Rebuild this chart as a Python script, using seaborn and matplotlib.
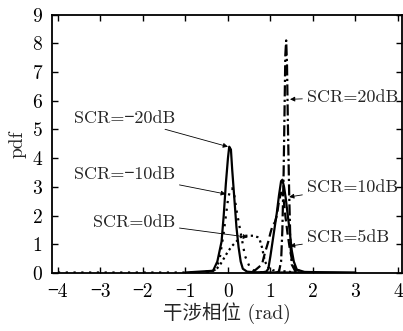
import numpy as np
import pandas as pd
import matplotlib
matplotlib.use('Agg')
import matplotlib.pyplot as plt
import seaborn as sns

sns.set_theme(style='ticks')
plt.rcParams['font.family'] = ['cmr10', 'Noto Sans CJK SC', 'DejaVu Serif']
plt.rcParams['axes.unicode_minus'] = True

# 读图得到的数据点 (相位 rad, pdf)
x_m20 = [-1.0, -0.35, -0.25, -0.15, -0.1, -0.05, 0.0, 0.03, 0.07, 0.1, 0.15, 0.2, 0.25, 0.3, 0.35, 0.45, 0.6, 1.0, 2.0, 3.0]
y_m20 = [0.02, 0.08, 0.4, 1.1, 2.0, 3.1, 4.0, 4.4, 4.3, 3.6, 2.6, 1.6, 0.9, 0.4, 0.15, 0.05, 0.03, 0.02, 0.02, 0.02]

x_m10 = [-4.0, -3.0, -2.0, -1.0, -0.6, -0.3, -0.2, -0.1, 0.0, 0.05, 0.1, 0.15, 0.2, 0.25, 0.3, 0.35, 0.4, 0.5, 0.6, 0.8]
y_m10 = [0.02, 0.02, 0.02, 0.02, 0.02, 0.12, 0.45, 1.4, 2.55, 2.9, 2.95, 2.7, 2.2, 1.8, 1.4, 1.0, 0.6, 0.25, 0.1, 0.02]

x_0 = [-0.5, -0.3, -0.2, -0.1, 0.0, 0.1, 0.2, 0.3, 0.4, 0.5, 0.6, 0.7, 0.75, 0.8, 0.87, 0.95, 1.05, 1.2, 1.4, 1.6]
y_0 = [0.02, 0.1, 0.25, 0.5, 0.75, 0.95, 1.1, 1.25, 1.3, 1.3, 1.3, 1.25, 1.15, 0.9, 0.4, 0.2, 0.1, 0.08, 0.05, 0.02]

x_5 = [0.7, 0.9, 0.95, 1.0, 1.05, 1.1, 1.15, 1.2, 1.25, 1.28, 1.32, 1.36, 1.4, 1.45, 1.5, 1.55, 1.62, 1.8, 2.5, 3.0]
y_5 = [0.0, 0.05, 0.15, 0.6, 1.1, 1.6, 2.1, 2.7, 3.2, 3.25, 3.0, 2.6, 2.1, 1.5, 0.8, 0.4, 0.12, 0.04, 0.02, 0.0]

x_10 = [0.6, 0.8, 0.87, 0.95, 1.0, 1.06, 1.1, 1.15, 1.2, 1.25, 1.3, 1.35, 1.4, 1.45, 1.5, 1.6, 1.8]
y_10 = [0.05, 0.3, 0.7, 1.1, 1.4, 1.7, 1.75, 2.0, 2.5, 2.8, 2.7, 2.0, 1.4, 0.9, 0.5, 0.12, 0.02]

x_20 = [1.1, 1.2, 1.25, 1.28, 1.31, 1.33, 1.35, 1.37, 1.39, 1.41, 1.44, 1.47, 1.5, 1.6]
y_20 = [0.0, 0.05, 0.4, 1.5, 3.5, 5.5, 7.6, 8.1, 7.2, 5.2, 2.8, 1.0, 0.3, 0.02]

curves = [
    ('SCR=−20dB', x_m20, y_m20, '-'),
    ('SCR=−10dB', x_m10, y_m10, (0, (1, 2.5))),
    ('SCR=0dB', x_0, y_0, (0, (1, 1.5))),
    ('SCR=5dB', x_5, y_5, '-'),
    ('SCR=10dB', x_10, y_10, (0, (4, 2))),
    ('SCR=20dB', x_20, y_20, (0, (5, 1.5, 1, 1.5))),
]

fig = plt.figure(figsize=(4.03, 3.31), dpi=100)
ax = fig.add_axes([0.129, 0.175, 0.868, 0.781])

for name, xs, ys, ls in curves:
    sns.lineplot(x=xs, y=ys, ax=ax, color='black', linewidth=1.6,
                 linestyle=ls, estimator=None)

ax.set_xlim(-4.14, 4.09)
ax.set_ylim(0, 9)
ax.set_xticks(range(-4, 5))
ax.set_yticks(range(0, 10))
ax.tick_params(direction='in', length=4, width=1, top=True, right=True,
               labelsize=14, colors='black', pad=7)
for s in ax.spines.values():
    s.set_linewidth(1.3)
    s.set_color('black')

ax.set_xlabel('干涉相位 (rad)', fontsize=14, labelpad=1)
ax.set_ylabel('pdf', fontsize=14, labelpad=4)

arrow = dict(arrowstyle='-|>', color='black', lw=0.6, mutation_scale=7, shrinkA=1, shrinkB=0)
fs = 13
ax.annotate('SCR=−20dB', xy=(0.0, 4.4), xytext=(-1.25, 5.4), ha='right', va='center', fontsize=fs, arrowprops=arrow)
ax.annotate('SCR=−10dB', xy=(-0.05, 2.75), xytext=(-1.25, 3.45), ha='right', va='center', fontsize=fs, arrowprops=arrow)
ax.annotate('SCR=0dB', xy=(0.47, 1.25), xytext=(-1.25, 1.78), ha='right', va='center', fontsize=fs, arrowprops=arrow)
ax.annotate('SCR=20dB', xy=(1.46, 6.05), xytext=(1.86, 6.13), ha='left', va='center', fontsize=fs, arrowprops=arrow)
ax.annotate('SCR=10dB', xy=(1.44, 2.65), xytext=(1.86, 3.0), ha='left', va='center', fontsize=fs, arrowprops=arrow)
ax.annotate('SCR=5dB', xy=(1.46, 0.94), xytext=(1.86, 1.25), ha='left', va='center', fontsize=fs, arrowprops=arrow)

fig.savefig('out.png', dpi=100)
